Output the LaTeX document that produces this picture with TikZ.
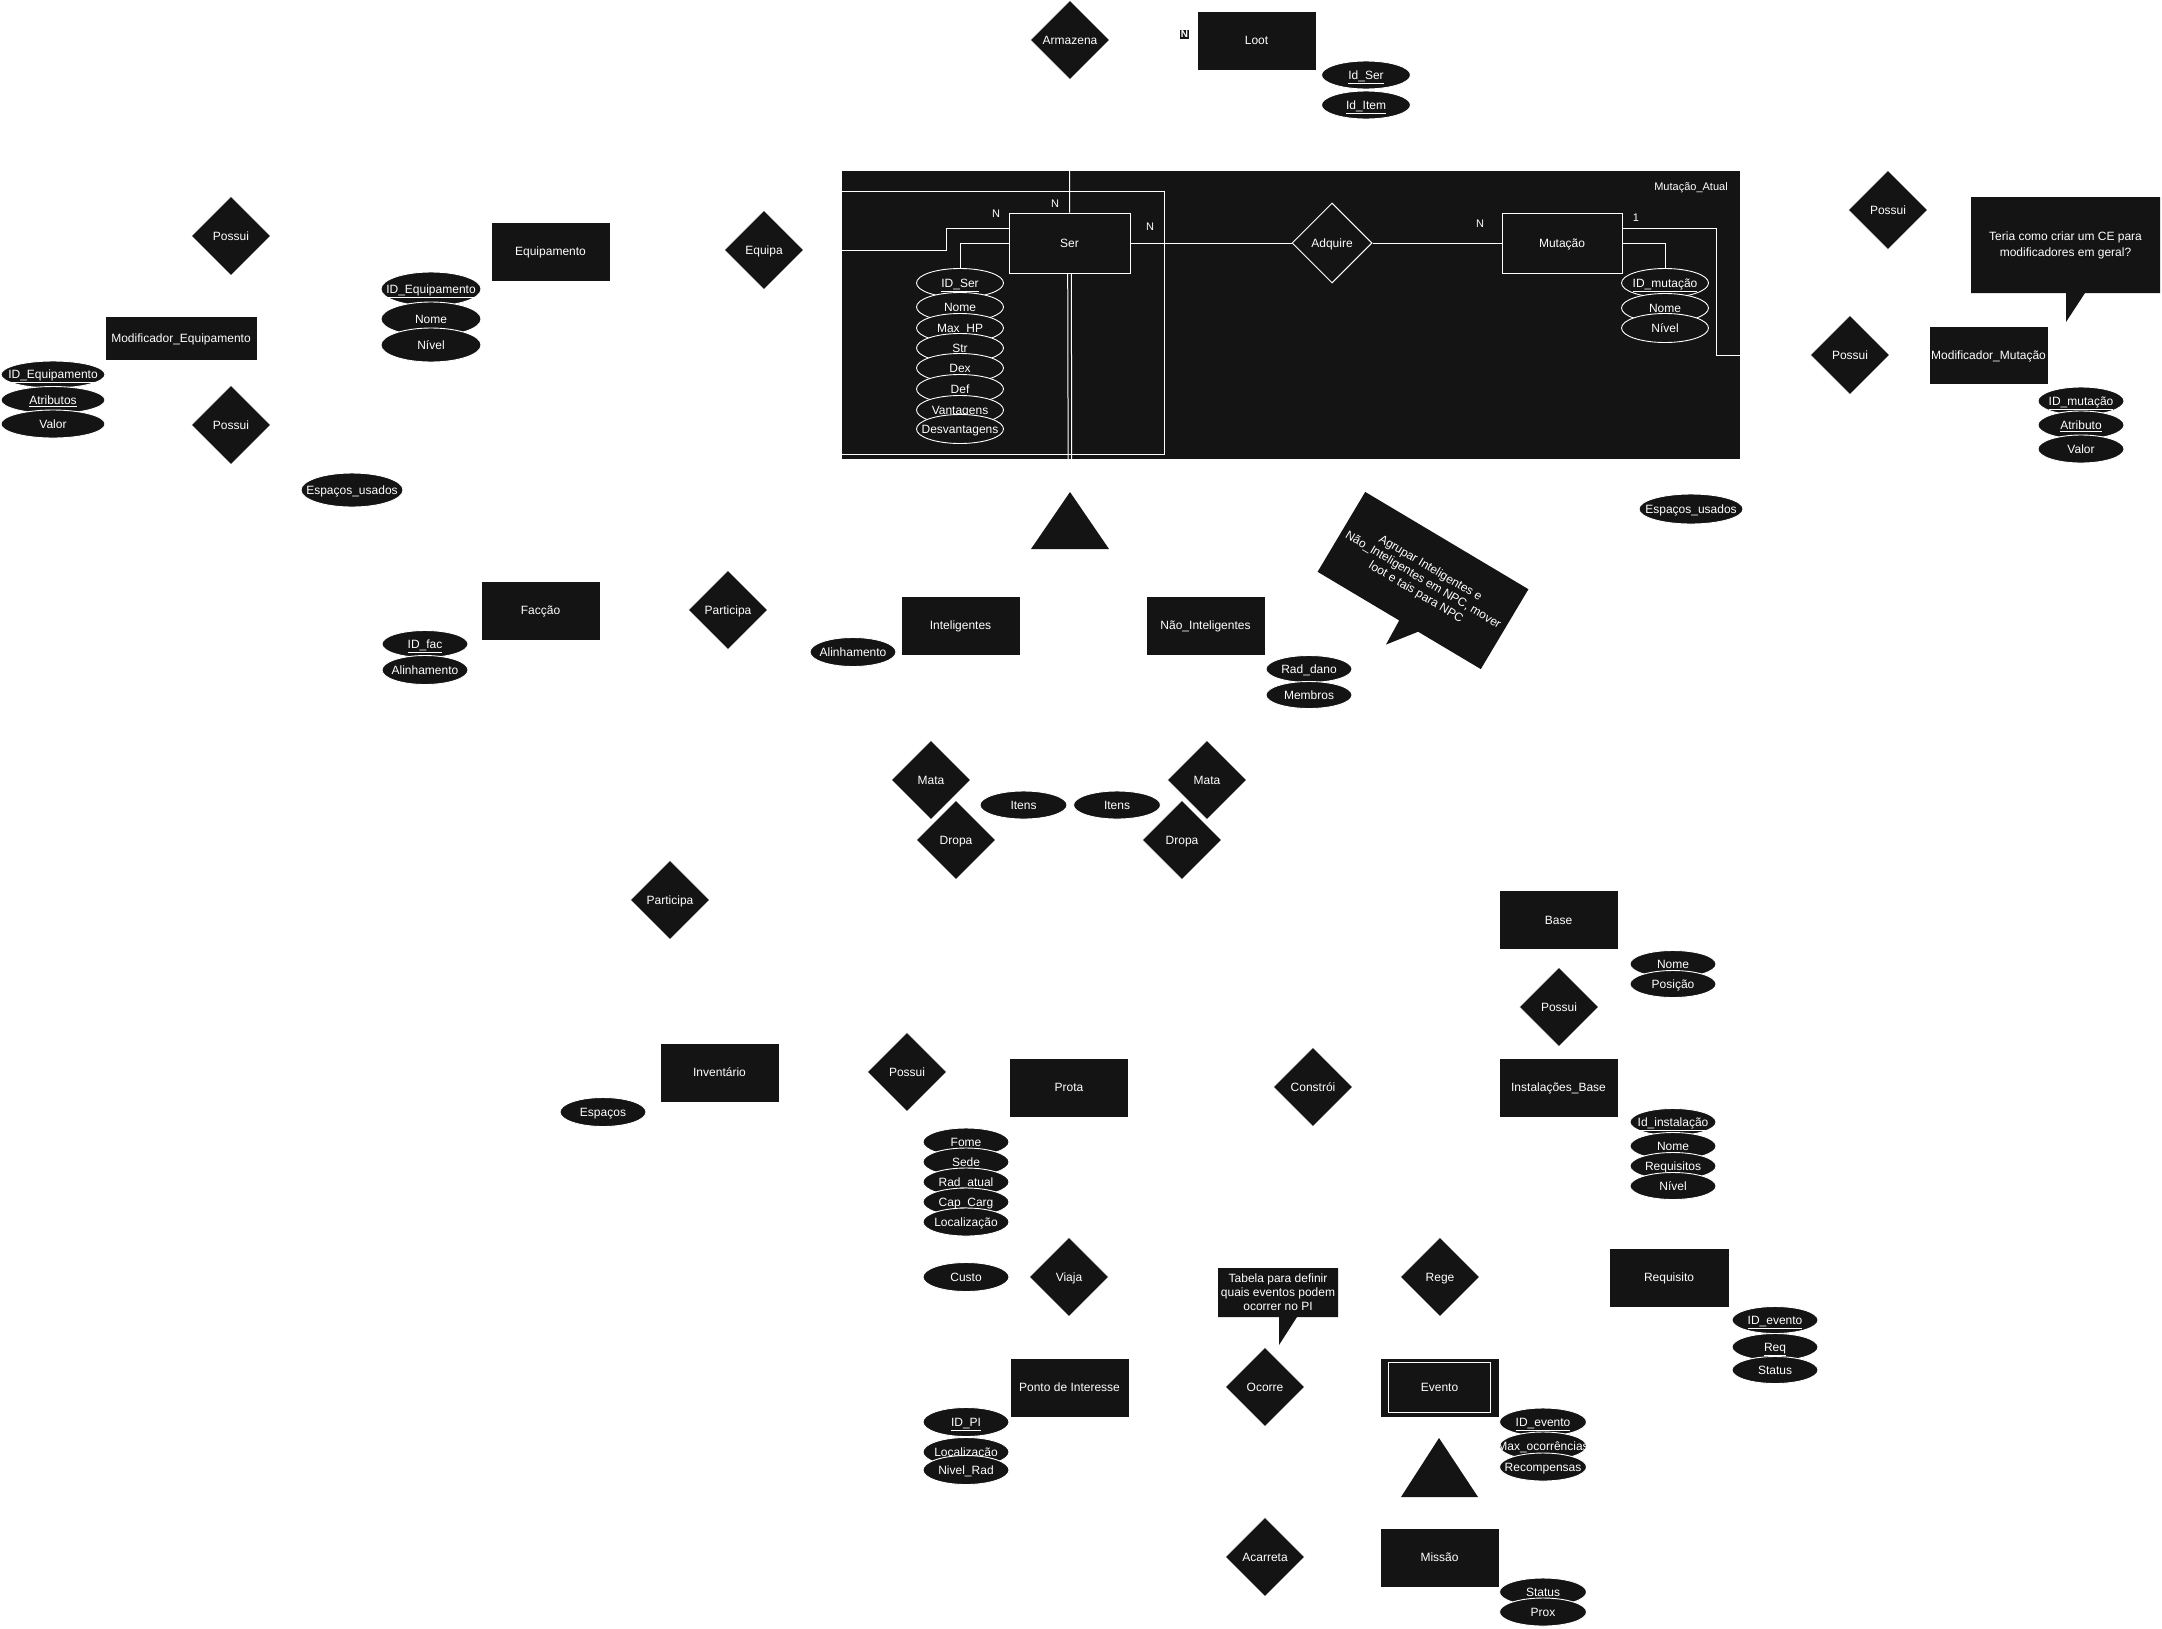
\documentclass[tikz,border=0pt]{standalone}
\usepackage{fontspec}
\setmainfont{Liberation Sans}
\usetikzlibrary{shapes.geometric}
\definecolor{blk}{HTML}{141414}
\pgfdeclarelayer{back}
\pgfdeclarelayer{lines}
\pgfsetlayers{back,lines,main}
\newcommand{\zw}[1]{\makebox[0pt]{#1}}
\begin{document}
\begin{tikzpicture}[x=1pt,y=-1pt, font=\fontsize{12}{14}\selectfont,
 ent/.style={rectangle, fill=blk, draw=white, line width=1pt, text=white, minimum width=119pt, minimum height=59pt, inner sep=0pt, text height=8.6pt, text depth=0pt},
 rel/.style={diamond, aspect=1, fill=blk, draw=white, line width=1pt, text=white, minimum width=80pt, minimum height=80pt, inner sep=0pt, text height=8.6pt, text depth=0pt},
 attr/.style={ellipse, fill=blk, draw=white, line width=0.9pt, text=white, minimum width=86pt, minimum height=28pt, inner sep=0pt, text height=8.6pt, text depth=0pt},
 conn/.style={draw=white, line width=1pt},
 card/.style={text=white, font=\fontsize{11}{13}\selectfont, inner sep=0pt},
 notetext/.style={text=white, align=center, inner sep=0pt}
]
\useasboundingbox (0,0) rectangle (2162,1628);
\begin{pgfonlayer}{back}
\fill[white] (0,0) rectangle (2162,1628);
\node[fill=blk, minimum width=898pt, minimum height=288pt, inner sep=0pt, anchor=north west] (cont) at (842,171) {};
\end{pgfonlayer}
\node[text=white, font=\fontsize{11}{13}\selectfont, inner sep=0pt] (contlbl) at (1691,188) {Mutação\_Atual};

% ---------- entities ----------
\node[ent] (loot) at (1256.5,40.5) {\zw{Loot}};
\node[fill=blk, text=white, inner sep=1pt, font=\fontsize{10}{12}\selectfont\bfseries] (nloot) at (1184.5,34.5) {N};
\node[ent] (equip) at (550.5,251.5) {\zw{Equipamento}};
\node[ent, minimum width=152pt, minimum height=44pt] (modeq) at (181,338) {\zw{Modificador\_Equipamento}};
\node[ent, minimum width=121pt, minimum height=60pt] (ser) at (1069.5,243) {\zw{Ser}};
\node[ent, minimum width=120pt, minimum height=60pt] (mut) at (1562,243) {\zw{Mutação}};
\node[ent, minimum height=58pt] (modmut) at (1988.5,355) {\zw{Modificador\_Mutação}};
\node[ent] (fac) at (540.5,610.5) {\zw{Facção}};
\node[ent] (intel) at (960.5,625.5) {\zw{Inteligentes}};
\node[ent] (nintel) at (1205.5,625.5) {\zw{Não\_Inteligentes}};
\node[ent] (inv) at (719.5,1072.5) {\zw{Inventário}};
\node[ent] (prota) at (1069,1087.5) {\zw{Prota}};
\node[ent] (base) at (1558.5,920) {\zw{Base}};
\node[ent] (inst) at (1558.5,1087.5) {\zw{Instalações\_Base}};
\node[ent] (pi) at (1069.5,1387.5) {\zw{Ponto de Interesse}};
\node[ent] (evento) at (1439.5,1387.5) {\zw{Evento}};
\draw[white, line width=1pt] ([shift={(9pt,-5pt)}]evento.north west) rectangle ([shift={(-9pt,5pt)}]evento.south east);
\node[ent] (missao) at (1439.5,1557.5) {\zw{Missão}};
\node[ent, minimum width=120pt] (req) at (1669,1277.5) {\zw{Requisito}};

% ---------- relationships ----------
\node[rel] (armz) at (1070,40) {Armazena};
\node[rel] (possA) at (231,236) {Possui};
\node[rel] (possB) at (231,425) {Possui};
\node[rel] (equipa) at (764,250) {Equipa};
\node[rel] (adq) at (1332,243) {Adquire};
\node[rel] (possC) at (1888,210) {Possui};
\node[rel] (possD) at (1850,355) {Possui};
\node[rel] (partA) at (728,610) {Participa};
\node[rel] (mataL) at (931,780) {Mata};
\node[rel] (dropaL) at (956,840) {Dropa};
\node[rel] (mataR) at (1207,780) {Mata};
\node[rel] (dropaR) at (1182,840) {Dropa};
\node[rel] (partB) at (670,900) {Participa};
\node[rel] (possE) at (907,1072) {Possui};
\node[rel] (constroi) at (1313,1087) {Constrói};
\node[rel] (possF) at (1559,1007) {Possui};
\node[rel] (viaja) at (1069,1277) {Viaja};
\node[rel] (rege) at (1440,1277) {Rege};
\node[rel] (ocorre) at (1265,1387) {Ocorre};
\node[rel] (acarreta) at (1265,1557) {Acarreta};

% ---------- specialisation triangles ----------
\fill[blk] (1070,492) -- (1109,549) -- (1031,549) -- cycle;
\coordinate (triA) at (1070,492);
\fill[blk] (1439,1438) -- (1478,1497) -- (1401,1497) -- cycle;
\coordinate (triB) at (1439,1438);

% ---------- attributes ----------
\node[attr, minimum width=89pt] (lid1) at (1366,75) {\zw{\underline{Id\_Ser}}};
\node[attr, minimum width=89pt] (lid2) at (1366,105) {\zw{\underline{Id\_Item}}};

\node[attr, minimum width=100pt, minimum height=34pt] (eq1) at (431,289) {\zw{\underline{ID\_Equipamento}}};
\node[attr, minimum width=100pt, minimum height=34pt] (eq2) at (431,319) {\zw{Nome}};
\node[attr, minimum width=100pt, minimum height=34pt] (eq3) at (431,345) {\zw{Nível}};

\node[attr, minimum width=104pt, minimum height=27pt] (me1) at (53,374.5) {\zw{\underline{ID\_Equipamento}}};
\node[attr, minimum width=104pt, minimum height=27pt] (me2) at (53,400) {\zw{\underline{Atributos}}};
\node[attr, minimum width=104pt, minimum height=28pt] (me3) at (53,424) {\zw{Valor}};

\node[attr, minimum width=102pt, minimum height=34pt] (espL) at (352,490) {\zw{Espaços\_usados}};
\node[attr, minimum width=104pt, minimum height=30pt] (espR) at (1691,509) {\zw{Espaços\_usados}};

\node[attr, minimum width=87pt, minimum height=29pt] (s1) at (960,283) {\zw{\underline{ID\_Ser}}};
\node[attr, minimum width=87pt, minimum height=29pt] (s2) at (960,307) {\zw{Nome}};
\node[attr, minimum width=87pt, minimum height=29pt] (s3) at (960,328) {\zw{Max\_HP}};
\node[attr, minimum width=87pt, minimum height=29pt] (s4) at (960,348) {\zw{Str}};
\node[attr, minimum width=87pt, minimum height=29pt] (s5) at (960,368) {\zw{Dex}};
\node[attr, minimum width=87pt, minimum height=29pt] (s6) at (960,389) {\zw{Def}};
\node[attr, minimum width=87pt, minimum height=29pt] (s7) at (960,410) {\zw{Vantagens}};
\node[attr, minimum width=87pt, minimum height=29pt] (s8) at (960,429) {\zw{Desvantagens}};

\node[attr, minimum width=87pt, minimum height=29pt] (m1) at (1665,283) {\zw{\underline{ID\_mutação}}};
\node[attr, minimum width=87pt, minimum height=29pt] (m2) at (1665,308) {\zw{Nome}};
\node[attr, minimum width=87pt, minimum height=29pt] (m3) at (1665,328) {\zw{Nível}};

\node[attr] (mm1) at (2081,401) {\zw{\underline{ID\_mutação}}};
\node[attr] (mm2) at (2081,425) {\zw{\underline{Atributo}}};
\node[attr] (mm3) at (2081,449) {\zw{Valor}};

\node[attr, minimum height=27pt] (f1) at (425,644) {\zw{\underline{ID\_fac}}};
\node[attr, minimum height=29pt] (f2) at (425,670) {\zw{Alinhamento}};
\node[attr, minimum height=29pt] (ial) at (853,652) {\zw{Alinhamento}};
\node[attr, minimum height=27pt] (n1) at (1309,669) {\zw{Rad\_dano}};
\node[attr, minimum height=27pt] (n2) at (1309,695) {\zw{Membros}};

\node[attr, minimum width=87pt] (itL) at (1023.5,805) {\zw{Itens}};
\node[attr, minimum width=87pt] (itR) at (1117,805) {\zw{Itens}};

\node[attr, minimum height=29pt] (espI) at (603,1112) {\zw{Espaços}};

\node[attr] (p1) at (966,1142) {\zw{Fome}};
\node[attr] (p2) at (966,1162) {\zw{Sede}};
\node[attr] (p3) at (966,1182) {\zw{Rad\_atual}};
\node[attr] (p4) at (966,1202) {\zw{Cap\_Carg}};
\node[attr] (p5) at (966,1222) {\zw{Localização}};
\node[attr, minimum height=29pt] (custo) at (966,1277) {\zw{Custo}};

\node[attr, minimum height=27pt] (b1) at (1673,964) {\zw{Nome}};
\node[attr, minimum height=27pt] (b2) at (1673,984) {\zw{Posição}};

\node[attr, minimum height=27pt] (i1) at (1673,1122) {\zw{\underline{Id\_instalação}}};
\node[attr, minimum height=27pt] (i2) at (1673,1146) {\zw{Nome}};
\node[attr, minimum height=27pt] (i3) at (1673,1166) {\zw{Requisitos}};
\node[attr, minimum height=27pt] (i4) at (1673,1186) {\zw{Nível}};

\node[attr, minimum height=29pt] (pi1) at (966,1422) {\zw{\underline{ID\_PI}}};
\node[attr, minimum height=29pt] (pi2) at (966,1452) {\zw{Localização}};
\node[attr, minimum height=29pt] (pi3) at (966,1470) {\zw{Nivel\_Rad}};

\node[attr, minimum height=27pt] (r1) at (1775,1320) {\zw{\underline{ID\_evento}}};
\node[attr, minimum height=27pt] (r2) at (1775,1347) {\zw{\underline{Req}}};
\node[attr, minimum height=27pt] (r3) at (1775,1370) {\zw{Status}};

\node[attr, minimum width=87pt] (e1) at (1543,1422) {\zw{\underline{ID\_evento}}};
\node[attr, minimum width=87pt] (e2) at (1543,1446) {\zw{Max\_ocorrências}};
\node[attr, minimum width=87pt] (e3) at (1543,1467) {\zw{Recompensas}};

\node[attr, minimum width=87pt] (ms1) at (1543,1592) {\zw{Status}};
\node[attr, minimum width=87pt] (ms2) at (1543,1612) {\zw{Prox}};

% ---------- notes ----------
\fill[blk] (1971,197) -- (2160,197) -- (2160,293) -- (2085,293) -- (2066,322) -- (2066,293) -- (1971,293) -- cycle;
\node[notetext, font=\fontsize{12}{16}\selectfont] (noteA) at (2065.5,245) {Teria como criar um CE para\\modificadores em geral?};

\begin{scope}[shift={(1423,580.5)}, rotate=-30.8]
\fill[blk] (-95,-46.5) -- (95,-46.5) -- (95,46.5) -- (22,46.5) -- (1,74) -- (0,46.5) -- (-95,46.5) -- cycle;
\end{scope}
\node[notetext, rotate=-30.8] (noteB) at (1423,580.5) {Agrupar Inteligentes e\\Não\_Inteligentes em NPC, mover\\loot e tais para NPC};

\fill[blk] (1218,1268) -- (1338,1268) -- (1338,1317) -- (1297,1317) -- (1279,1345) -- (1279,1317) -- (1218,1317) -- cycle;
\node[notetext] (noteC) at (1278,1292.5) {Tabela para definir\\quais eventos podem\\ocorrer no PI};

% ---------- connectors (white, only visible on the dark frame) ----------
\coordinate (loopA) at (842,191);
\coordinate (loopB) at (842,454);
\begin{pgfonlayer}{lines}
\draw[conn] (armz.south) -- (ser.north);
\draw[conn] ([xshift=-1.8pt]ser.south) -- ([xshift=-1.8pt]triA);
\draw[conn] ([xshift=1.8pt]ser.south) -- ([xshift=1.8pt]triA);
\draw[conn] (equipa.east) -- ++(142,0) |- ([yshift=15pt]ser.west);
\draw[conn] (ser.west) -| (s1.north);
\draw[conn] (ser.east) -- (adq.west);
\draw[conn] (adq.east) -- (mut.west);
\draw[conn] ([yshift=15pt]mut.east) -- ++(94,0) |- (possD.west);
\draw[conn] (mut.east) -| (m1.north);
\draw[conn] (loopA) -- (1164,191) -- (1164,454) -- (loopB);
\end{pgfonlayer}

% ---------- cardinalities ----------
\node[card] (cN1) at (996,214) {N};
\node[card] (cN2) at (1055,204) {N};
\node[card] (cN3) at (1150,227) {N};
\node[card] (cN4) at (1480,224) {N};
\node[card] (c1) at (1636,218) {1};
\end{tikzpicture}
\end{document}
